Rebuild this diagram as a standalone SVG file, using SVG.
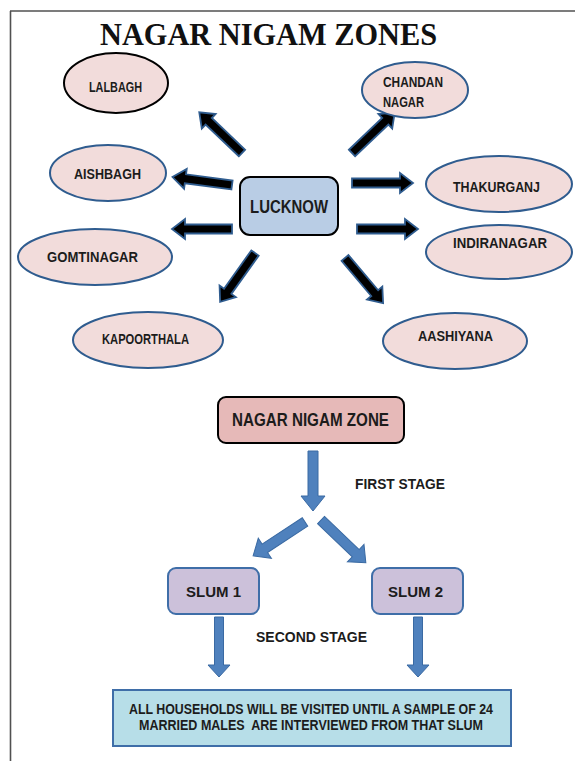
<svg xmlns="http://www.w3.org/2000/svg" width="575" height="761" viewBox="0 0 575 761">
<style>
.lbl{font-family:"Liberation Sans",Arial,sans-serif;font-weight:bold;fill:#1c1c1c;}
.zone{fill:#f2dcdb;stroke:#2f5c8f;stroke-width:2;}
.barr{fill:#000;stroke:#2f5c8f;stroke-width:1.8;stroke-linejoin:miter;}
.blarr{fill:#4f81bd;stroke:#3a6aa3;stroke-width:1;}
</style>
<rect width="575" height="761" fill="#fff"/>
<g id="border" fill="none" stroke="#505050" stroke-width="1.6">
<line x1="10.5" y1="11" x2="10.5" y2="761"/>
<line x1="10" y1="11" x2="575" y2="11"/>
</g>
<text id="title" x="268.5" y="45" text-anchor="middle" font-family="'Liberation Serif','Times New Roman',serif" font-weight="bold" font-size="31" fill="#111" textLength="337" lengthAdjust="spacingAndGlyphs">NAGAR NIGAM ZONES</text>

<g id="connectors">
<polygon class="barr" transform="translate(242,153) rotate(-136.4)" points="0,-4.5 46,-4.5 46,-10 59,0 46,10 46,4.5 0,4.5"/>
<polygon class="barr" transform="translate(352,153) rotate(-43.6)" points="0,-4.5 46,-4.5 46,-10 59,0 46,10 46,4.5 0,4.5"/>
<polygon class="barr" transform="translate(232,185) rotate(-172.4)" points="0,-4.5 47,-4.5 47,-10 60,0 47,10 47,4.5 0,4.5"/>
<polygon class="barr" transform="translate(232,229) rotate(180)" points="0,-4.5 47,-4.5 47,-10 60,0 47,10 47,4.5 0,4.5"/>
<polygon class="barr" transform="translate(352,183) rotate(0)" points="0,-4.5 48,-4.5 48,-10 61,0 48,10 48,4.5 0,4.5"/>
<polygon class="barr" transform="translate(357,229) rotate(0)" points="0,-4.5 48,-4.5 48,-10 61,0 48,10 48,4.5 0,4.5"/>
<polygon class="barr" transform="translate(255,253) rotate(125.5)" points="0,-4.5 47,-4.5 47,-10 60,0 47,10 47,4.5 0,4.5"/>
<polygon class="barr" transform="translate(345,258) rotate(49.8)" points="0,-4.5 46,-4.5 46,-10 59,0 46,10 46,4.5 0,4.5"/>

<polygon class="blarr" transform="translate(313,451) rotate(90)" points="0,-5 45,-5 45,-12 60,0 45,12 45,5 0,5"/>
<polygon class="blarr" transform="translate(305,522) rotate(146.8)" points="0,-5 48,-5 48,-12 62,0 48,12 48,5 0,5"/>
<polygon class="blarr" transform="translate(321,520) rotate(43.7)" points="0,-5 48,-5 48,-12 62,0 48,12 48,5 0,5"/>
<polygon class="blarr" transform="translate(219,617) rotate(90)" points="0,-4.5 48,-4.5 48,-11 60,0 48,11 48,4.5 0,4.5"/>
<polygon class="blarr" transform="translate(418,617) rotate(90)" points="0,-4.5 48,-4.5 48,-11 60,0 48,11 48,4.5 0,4.5"/>
</g>

<g id="lalbagh">
<ellipse cx="116" cy="83" rx="52" ry="30" fill="#f2dcdb" stroke="#000" stroke-width="2"/>
<text class="lbl" x="89" y="92" font-size="14" textLength="53" lengthAdjust="spacingAndGlyphs">LALBAGH</text>
</g>
<g id="chandan-nagar">
<ellipse class="zone" cx="415" cy="90" rx="53" ry="28"/>
<text class="lbl" x="383" y="87" font-size="14" textLength="60" lengthAdjust="spacingAndGlyphs">CHANDAN</text>
<text class="lbl" x="383" y="107" font-size="14" textLength="41" lengthAdjust="spacingAndGlyphs">NAGAR</text>
</g>
<g id="aishbagh">
<ellipse class="zone" cx="108" cy="173" rx="58" ry="28"/>
<text class="lbl" x="74" y="179" font-size="14" textLength="67" lengthAdjust="spacingAndGlyphs">AISHBAGH</text>
</g>
<g id="gomtinagar">
<ellipse class="zone" cx="95" cy="257" rx="77" ry="28"/>
<text class="lbl" x="47" y="262" font-size="14" textLength="91" lengthAdjust="spacingAndGlyphs">GOMTINAGAR</text>
</g>
<g id="kapoorthala">
<ellipse class="zone" cx="148" cy="340" rx="75" ry="28"/>
<text class="lbl" x="102" y="344" font-size="14" textLength="87" lengthAdjust="spacingAndGlyphs">KAPOORTHALA</text>
</g>
<g id="thakurganj">
<ellipse class="zone" cx="499" cy="184" rx="73" ry="28"/>
<text class="lbl" x="453" y="192" font-size="14" textLength="87" lengthAdjust="spacingAndGlyphs">THAKURGANJ</text>
</g>
<g id="indiranagar">
<ellipse class="zone" cx="499" cy="252" rx="73" ry="27"/>
<text class="lbl" x="453" y="248" font-size="14" textLength="94" lengthAdjust="spacingAndGlyphs">INDIRANAGAR</text>
</g>
<g id="aashiyana">
<ellipse class="zone" cx="455" cy="341" rx="72" ry="28"/>
<text class="lbl" x="418" y="341" font-size="14" textLength="75" lengthAdjust="spacingAndGlyphs">AASHIYANA</text>
</g>
<g id="lucknow">
<rect x="240" y="177" width="98" height="58" rx="10" fill="#b9cde5" stroke="#000" stroke-width="2"/>
<text class="lbl" x="250" y="213" font-size="18" textLength="78" lengthAdjust="spacingAndGlyphs">LUCKNOW</text>
</g>

<g id="nagar-nigam-zone">
<rect x="218" y="397" width="186" height="46" rx="8" fill="#e6b9b8" stroke="#000" stroke-width="2"/>
<text class="lbl" x="232" y="426" font-size="18" textLength="157" lengthAdjust="spacingAndGlyphs">NAGAR NIGAM ZONE</text>
</g>
<text id="first-stage" class="lbl" x="355" y="489" font-size="15" textLength="90" lengthAdjust="spacingAndGlyphs">FIRST STAGE</text>
<g id="slum1">
<rect x="168" y="568" width="91" height="46" rx="8" fill="#ccc1da" stroke="#3f6ea8" stroke-width="2"/>
<text class="lbl" x="186" y="597" font-size="15" textLength="55" lengthAdjust="spacingAndGlyphs">SLUM 1</text>
</g>
<g id="slum2">
<rect x="372" y="568" width="91" height="46" rx="8" fill="#ccc1da" stroke="#3f6ea8" stroke-width="2"/>
<text class="lbl" x="388" y="597" font-size="15" textLength="55" lengthAdjust="spacingAndGlyphs">SLUM 2</text>
</g>
<text id="second-stage" class="lbl" x="256" y="642" font-size="15" textLength="111" lengthAdjust="spacingAndGlyphs">SECOND STAGE</text>
<g id="result">
<rect x="113" y="690" width="398" height="56" fill="#b7dee8" stroke="#3f6ea8" stroke-width="2"/>
<text class="lbl" x="129" y="714" font-size="14" textLength="364" lengthAdjust="spacingAndGlyphs">ALL HOUSEHOLDS WILL BE VISITED UNTIL A SAMPLE OF 24</text>
<text class="lbl" x="139" y="730" font-size="14" textLength="344" lengthAdjust="spacingAndGlyphs" style="white-space:pre">MARRIED MALES  ARE INTERVIEWED FROM THAT SLUM</text>
</g>
</svg>
